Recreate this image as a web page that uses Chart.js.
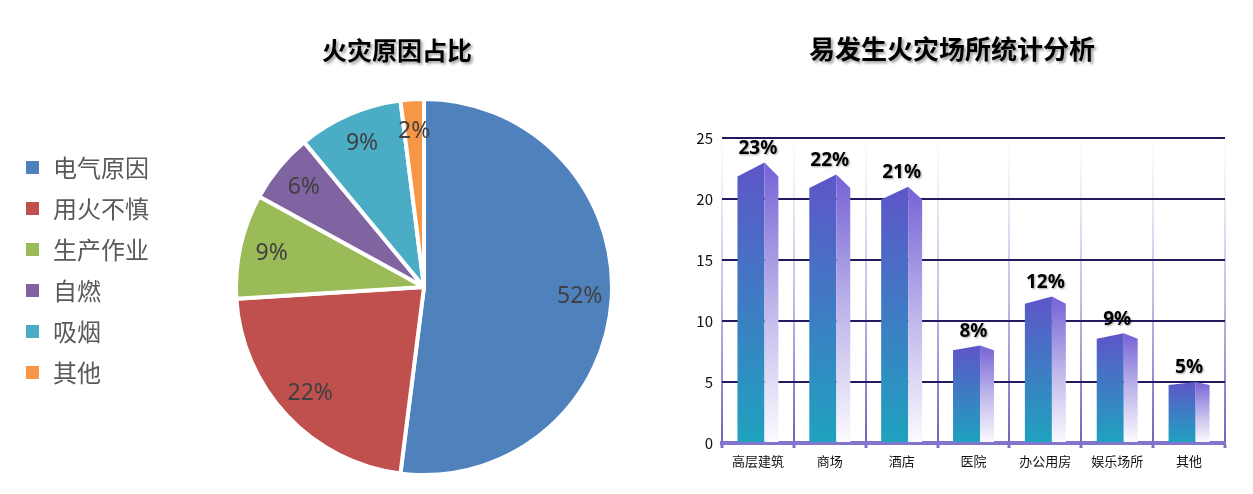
<!DOCTYPE html>
<html lang="zh">
<head>
<meta charset="utf-8">
<title>火灾统计</title>
<script src="https://cdn.jsdelivr.net/npm/chart.js@4.4.1/dist/chart.umd.min.js"></script>
<style>
  html, body { margin: 0; padding: 0; background: #fff; }
  body { width: 1253px; height: 494px; position: relative; overflow: hidden; font-family: "Noto Sans CJK SC", sans-serif; }
  .title { position: absolute; font-weight: bold; color: #000; line-height: 1; white-space: nowrap;
           transform: translateX(-50%); text-shadow: 2px 2px 3px rgba(0, 0, 0, 0.4); }
  #pieTitle { left: 397px; top: 37px; font-size: 25px; }
  #barTitle { left: 952px; top: 35px; font-size: 26px; }
  #pieWrap { position: absolute; left: 0; top: 0; width: 700px; height: 494px; }
  #barWrap { position: absolute; left: 640px; top: 0; width: 613px; height: 494px; }
</style>
</head>
<body>
<div id="barWrap"><canvas id="barChart"></canvas></div>
<div id="pieWrap"><canvas id="pieChart"></canvas></div>
<div class="title" id="pieTitle">火灾原因占比</div>
<div class="title" id="barTitle">易发生火灾场所统计分析</div>

<script>
// Fire causes (pie)
const causeLabels = ['电气原因', '用火不慎', '生产作业', '自燃', '吸烟', '其他'];
const causeValues = [52, 22, 9, 6, 9, 2];
const causeColors = ['#4f81bd', '#c0504d', '#9bbb59', '#8064a2', '#4bacc6', '#f79646'];

// Places where fires happen (bar)
const placeLabels = ['高层建筑', '商场', '酒店', '医院', '办公用房', '娱乐场所', '其他'];
const placeValues = [23, 22, 21, 8, 12, 9, 5];
const yMin = 0;
const yMax = 25;
const yStep = 5;

Chart.defaults.font.family = '"Noto Sans CJK SC", "Noto Sans", sans-serif';
Chart.defaults.animation = false;

/**
 * Percent labels inside the pie slices
 */
const pieLabels = {
    id: 'pieLabels',
    afterDatasetsDraw(chart) {
        const ctx = chart.ctx;
        const meta = chart.getDatasetMeta(0);
        ctx.save();
        ctx.font = '23px "Noto Sans", "DejaVu Sans", sans-serif';
        ctx.fillStyle = '#404040';
        ctx.textAlign = 'center';
        ctx.textBaseline = 'middle';
        meta.data.forEach((arc, i) => {
            const p = arc.getProps(['x', 'y', 'startAngle', 'endAngle', 'outerRadius']);
            const a = (p.startAngle + p.endAngle) / 2;
            const r = p.outerRadius * 0.83;
            ctx.fillText(causeValues[i] + '%', p.x + Math.cos(a) * r, p.y + Math.sin(a) * r);
        });
        ctx.restore();
    }
};

// legend sits a little higher than the pie centre
const legendShift = {
    id: 'legendShift',
    afterLayout(chart) {
        chart.legend.top -= 17;
        chart.legend.bottom -= 17;
    }
};

new Chart(document.getElementById('pieChart'), {
    type: 'pie',
    data: {
        labels: causeLabels,
        datasets: [{
            data: causeValues,
            backgroundColor: causeColors,
            borderColor: '#ffffff',
            borderWidth: 4,
            radius: 188
        }]
    },
    options: {
        responsive: true,
        maintainAspectRatio: false,
        layout: { padding: { left: 7, right: 11, top: 90, bottom: 10 } },
        plugins: {
            tooltip: { enabled: false },
            legend: {
                position: 'left',
                align: 'center',
                labels: {
                    boxWidth: 17,
                    boxHeight: 17,
                    padding: 17,
                    color: '#595959',
                    font: { size: 24 }
                }
            }
        }
    },
    plugins: [pieLabels, legendShift]
});

/**
 * Pseudo 3D bars: front face, shaded side face and a pointed cap
 */
const bars3d = {
    id: 'bars3d',
    afterDatasetsDraw(chart) {
        const ctx = chart.ctx;
        const meta = chart.getDatasetMeta(0);
        ctx.save();
        meta.data.forEach((bar, i) => {
            const { x, y, base, width } = bar.getProps(['x', 'y', 'base', 'width']);
            const left = x - width / 2;
            const right = x + width / 2;
            const split = left + width * 0.66;
            const cap = (base - y) * 0.05;

            // front face
            let g = ctx.createLinearGradient(0, y, 0, base);
            g.addColorStop(0, '#5e55c8');
            g.addColorStop(1, '#1fa2bf');
            ctx.fillStyle = g;
            ctx.beginPath();
            ctx.moveTo(left, base);
            ctx.lineTo(left, y + cap);
            ctx.lineTo(split, y);
            ctx.lineTo(split, base);
            ctx.closePath();
            ctx.fill();

            // side face
            g = ctx.createLinearGradient(0, y, 0, base);
            g.addColorStop(0, '#7662d6');
            g.addColorStop(0.5, '#bdb4ea');
            g.addColorStop(1, '#fbfaff');
            ctx.fillStyle = g;
            ctx.beginPath();
            ctx.moveTo(split, base);
            ctx.lineTo(split, y);
            ctx.lineTo(right, y + cap);
            ctx.lineTo(right, base);
            ctx.closePath();
            ctx.fill();

            // value label
            ctx.save();
            ctx.font = 'bold 19px "Noto Sans", "DejaVu Sans", sans-serif';
            ctx.fillStyle = '#000';
            ctx.textAlign = 'center';
            ctx.textBaseline = 'middle';
            ctx.shadowColor = 'rgba(0, 0, 0, 0.35)';
            ctx.shadowOffsetX = 1;
            ctx.shadowOffsetY = 1;
            ctx.shadowBlur = 2;
            ctx.fillText(placeValues[i] + '%', x, y - 14);
            ctx.restore();
        });
        ctx.restore();
    }
};

function verticalGridColor(context) {
    const { ctx, chartArea } = context.chart;
    if (!chartArea) {
        return '#7f72c6';
    }
    const g = ctx.createLinearGradient(0, chartArea.top, 0, chartArea.bottom);
    g.addColorStop(0, 'rgba(128, 114, 198, 0)');
    g.addColorStop(0.2, 'rgba(128, 114, 198, 0.15)');
    g.addColorStop(0.55, 'rgba(128, 114, 198, 0.5)');
    g.addColorStop(1, 'rgba(112, 98, 188, 1)');
    return g;
}

new Chart(document.getElementById('barChart'), {
    type: 'bar',
    data: {
        labels: placeLabels,
        datasets: [{
            data: placeValues,
            backgroundColor: 'rgba(0, 0, 0, 0)',
            barPercentage: 0.57,
            categoryPercentage: 1
        }]
    },
    options: {
        responsive: true,
        maintainAspectRatio: false,
        layout: { padding: { top: 138, right: 28, bottom: 0, left: 0 } },
        plugins: {
            legend: { display: false },
            tooltip: { enabled: false }
        },
        scales: {
            x: {
                grid: {
                    offset: true,
                    color: verticalGridColor,
                    lineWidth: 2,
                    tickColor: '#7f72c6',
                    tickLength: 5,
                    tickWidth: 3
                },
                border: { color: '#8276cc', width: 4 },
                ticks: { color: '#111', font: { size: 13 }, padding: 5 },
                afterFit(scale) { scale.height = 51; }
            },
            y: {
                min: yMin,
                max: yMax,
                ticks: { stepSize: yStep, color: '#111', font: { size: 15 }, padding: 9 },
                grid: {
                    color: c => (c.tick && c.tick.value === 0) ? 'rgba(0, 0, 0, 0)' : '#1f1b5e',
                    lineWidth: 2,
                    drawTicks: false
                },
                border: { display: false },
                afterFit(scale) { scale.width = 82; }
            }
        }
    },
    plugins: [bars3d]
});
</script>
</body>
</html>
